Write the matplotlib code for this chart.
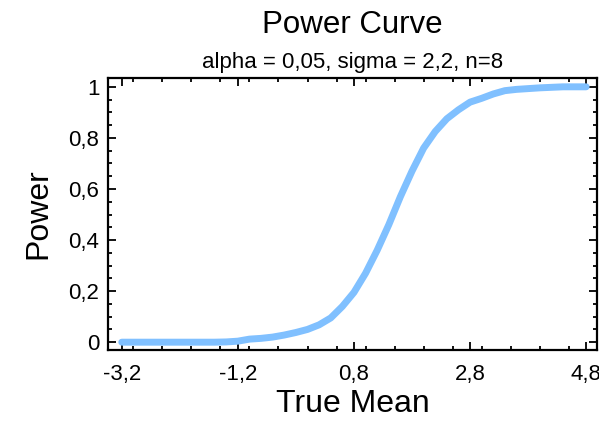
"""
Power curve for a one-sided test (alpha = 0,05, sigma = 2,2, n = 8).
"""

import matplotlib
matplotlib.use("Agg")
import matplotlib.pyplot as plt
from matplotlib.ticker import FuncFormatter, MultipleLocator, FixedLocator

plt.rcParams['font.family'] = ['Liberation Sans', 'DejaVu Sans']

# Values
true_mean = [-3.2, -3.0, -2.8, -2.6, -2.4, -2.2, -2.0, -1.8, -1.6, -1.4,
             -1.2, -1.0, -0.8, -0.6, -0.4, -0.2, 0.0, 0.2, 0.4, 0.6,
             0.8, 1.0, 1.2, 1.4, 1.6, 1.8, 2.0, 2.2, 2.4, 2.6,
             2.8, 3.0, 3.2, 3.4, 3.6, 3.8, 4.0, 4.2, 4.4, 4.6, 4.8]
power = [0.0, 0.0, 0.0, 0.0, 0.0, 0.0, 0.0, 0.0, 0.0, 0.001,
         0.004, 0.012, 0.015, 0.02, 0.028, 0.038, 0.05, 0.068, 0.095, 0.14,
         0.195, 0.27, 0.36, 0.46, 0.57, 0.67, 0.76, 0.825, 0.875, 0.91,
         0.94, 0.955, 0.972, 0.985, 0.99, 0.993, 0.996, 0.998, 1.0, 1.0, 1.0]
x_ticks = [-3.2, -1.2, 0.8, 2.8, 4.8]

fig = plt.figure(figsize=(5.99, 4.21), dpi=100)
ax = fig.add_axes([0.180, 0.169, 0.817, 0.646])

ax.plot(true_mean, power, color='#80c0ff', linewidth=5,
        solid_capstyle='round', solid_joinstyle='round')

ax.set_xlim(-3.44, 4.99)
ax.set_ylim(-0.03, 1.035)

# ticks: inside, on all four sides, decimal comma
comma = FuncFormatter(lambda v, pos: ('%g' % round(v, 3)).replace('.', ','))
ax.xaxis.set_major_locator(FixedLocator(x_ticks))
ax.xaxis.set_minor_locator(MultipleLocator(0.5))
ax.yaxis.set_major_locator(MultipleLocator(0.2))
ax.yaxis.set_minor_locator(MultipleLocator(0.05))
ax.xaxis.set_major_formatter(comma)
ax.yaxis.set_major_formatter(comma)
ax.tick_params(which='both', direction='in', top=True, right=True, width=1.3)
ax.tick_params(which='major', length=6, labelsize=16)
ax.tick_params(axis='x', which='major', pad=10)
ax.tick_params(axis='y', which='major', pad=6)
ax.tick_params(which='minor', length=3)
for s in ax.spines.values():
    s.set_linewidth(1.6)

ax.set_xlabel('True Mean', fontsize=23, labelpad=3)
ax.set_ylabel('Power', fontsize=23, labelpad=11)

fig.text(0.588, 0.94, 'Power Curve', ha='center', va='center', fontsize=22.5)
fig.text(0.588, 0.852, 'alpha = 0,05, sigma = 2,2, n=8', ha='center', va='center',
         fontsize=16)

plt.savefig('out.png', dpi=100)
plt.close()
